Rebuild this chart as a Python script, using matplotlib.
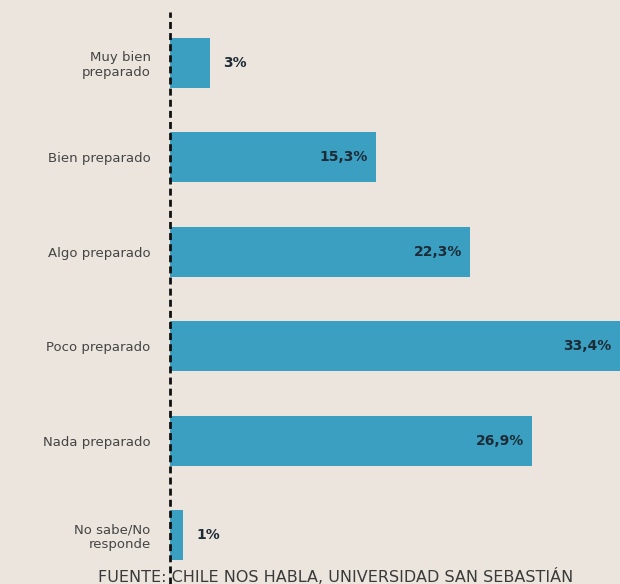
import matplotlib.pyplot as plt

categorias = ["Muy bien\npreparado", "Bien preparado", "Algo preparado",
              "Poco preparado", "Nada preparado", "No sabe/No\nresponde"]
valores = [3.0, 15.3, 22.3, 33.4, 26.9, 1.0]
etiquetas = ["3%", "15,3%", "22,3%", "33,4%", "26,9%", "1%"]
fuente = "FUENTE: CHILE NOS HABLA, UNIVERSIDAD SAN SEBASTIÁN"

fondo = "#ece5dd"
azul = "#3a9fc0"

fig = plt.figure(figsize=(6.2, 5.84), dpi=100, facecolor=fondo)
ax = fig.add_axes([170 / 620, 0, 450 / 620, 1 - 12 / 584])
ax.set_facecolor(fondo)

pos = list(range(len(valores)))
ax.barh(pos, valores, height=0.53, color=azul, zorder=2)
ax.set_xlim(0, 33.4)
ax.set_ylim(5.52, -0.54)

for p, v, t in zip(pos, valores, etiquetas):
    if v > 5:
        ax.annotate(t, (v, p), xytext=(-6, 0), textcoords="offset points",
                    ha="right", va="center", fontsize=10, fontweight="bold",
                    color="#1d2b36", zorder=3)
    else:
        ax.annotate(t, (v, p), xytext=(9, 0), textcoords="offset points",
                    ha="left", va="center", fontsize=10, fontweight="bold",
                    color="#1d2b36", zorder=3)

ax.set_yticks(pos)
ax.set_yticklabels(categorias, fontsize=9.5, color="#444444", multialignment="right")
ax.tick_params(axis="y", length=0, pad=14)
ax.set_xticks([])
for s in ax.spines.values():
    s.set_visible(False)

ax.axvline(0, color="#111111", lw=2, linestyle=(0, (2.5, 1.5)), zorder=4, clip_on=False)

ax.text(98 / 620, 7 / 584, fuente, transform=fig.transFigure, fontsize=11.5,
        color="#3a3a3a", ha="left", va="center", clip_on=False, zorder=1)

fig.savefig("out.png", dpi=100, facecolor=fondo)
